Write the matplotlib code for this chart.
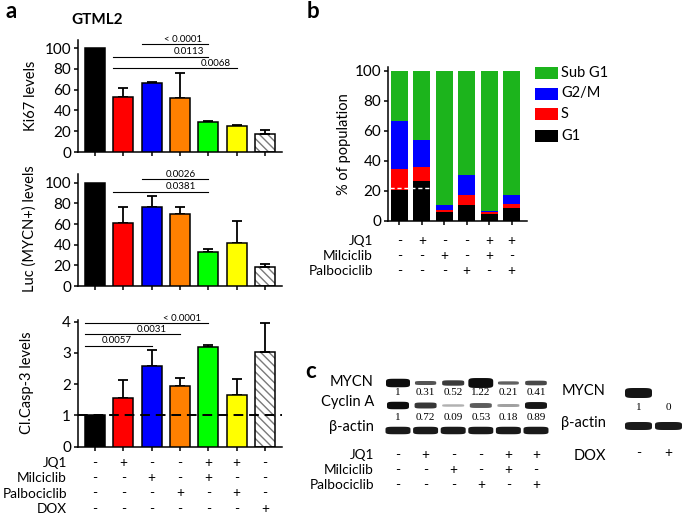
import matplotlib
matplotlib.use('Agg')
import matplotlib.pyplot as plt
import numpy as np
from matplotlib.transforms import blended_transform_factory as btf
from matplotlib.patches import Rectangle

plt.rcParams['font.family'] = ['Lato', 'DejaVu Sans']
plt.rcParams['hatch.linewidth'] = 1.0

# ---------------- data ----------------
conditions = ['Control', 'JQ1', 'Milciclib', 'Palbociclib', 'JQ1+Milciclib', 'JQ1+Palbociclib', 'DOX']
ki67_mean = [100, 52.9, 66.6, 52.2, 28.7, 25.2, 17.2]
ki67_err = [0, 8.9, 0.9, 23.3, 0.9, 0.9, 3.5]
luc_mean = [100, 61.3, 76.8, 70.0, 33.2, 41.9, 18.7]
luc_err = [0, 15.5, 10.2, 6.5, 2.9, 21.0, 2.6]
casp_mean = [1.0, 1.56, 2.58, 1.94, 3.19, 1.65, 3.02]
casp_err = [0, 0.56, 0.51, 0.26, 0.05, 0.50, 0.95]

# comparisons: (first bar, last bar, line level, p-value label, label x-centre)
ki67_comps = [(2, 4, 103.6, '< 0.0001', 3.12), (1, 4, 91.6, '0.0113', 3.3), (1, 5, 80.5, '0.0068', 4.27)]
luc_comps = [(2, 4, 103.3, '0.0026', 3.02), (1, 4, 91.3, '0.0381', 3.02)]
casp_comps = [(0, 4, 3.95, '< 0.0001', 3.09), (0, 3, 3.59, '0.0031', 2.01), (0, 2, 3.23, '0.0057', 0.78)]

a_rows = ['JQ1', 'Milciclib', 'Palbociclib', 'DOX']
a_signs = [['-', '+', '-', '-', '+', '+', '-'],
           ['-', '-', '+', '-', '+', '-', '-'],
           ['-', '-', '-', '+', '-', '+', '-'],
           ['-', '-', '-', '-', '-', '-', '+']]

# panel b: cell cycle distribution (%)
g1 = [21.0, 26.7, 5.8, 10.7, 5.0, 8.9]
s_phase = [14.0, 9.1, 1.5, 6.6, 1.0, 2.6]
g2m = [31.7, 18.2, 3.7, 13.4, 0.5, 5.6]
subg1 = [33.3, 46.0, 89.0, 69.3, 93.5, 82.9]
bc_rows = ['JQ1', 'Milciclib', 'Palbociclib']
bc_signs = [['-', '+', '-', '-', '+', '+'],
            ['-', '-', '+', '-', '+', '-'],
            ['-', '-', '-', '+', '-', '+']]

# panel c: western blot quantification
mycn_q = [1, 0.31, 0.52, 1.22, 0.21, 0.41]
cyclinA_q = [1, 0.72, 0.09, 0.53, 0.18, 0.89]
actin_q = [1, 1, 1, 1, 1, 1]
dox_mycn_q = [1, 0]
dox_actin_q = [1, 1]
dox_signs = ['-', '+']

# ---------------- layout helpers ----------------
W, H = 685, 516
fig = plt.figure(figsize=(6.85, 5.16), dpi=100)

def rect(x0, y0, x1, y1):
    return [x0 / W, 1 - y1 / H, (x1 - x0) / W, (y1 - y0) / H]

bar_colors = ['#000000', '#ff0000', '#0000ff', '#ff8000', '#00ff00', '#ffff00', '#ffffff']
TICK_FS = 11
LAB_FS = 10.5
ROW_FS = 9.8
SIG_FS = 7
NUM_FS = 8


def style_axes(ax, top):
    for sp in ['top', 'right']:
        ax.spines[sp].set_visible(False)
    ax.spines['left'].set_linewidth(1.1)
    ax.spines['bottom'].set_linewidth(1.1)
    ax.spines['left'].set_bounds(0, top)
    ax.tick_params(direction='out', length=3, width=1.1, labelsize=TICK_FS, pad=2)


def bar_panel(ax, mean, err, ylim, yticks, comps):
    x = np.arange(len(mean))
    for i in range(len(mean)):
        if i == 6:
            ax.bar(x[i], mean[i], 0.7, color='white', edgecolor='#7a7a7a', hatch='\\' * 4,
                   linewidth=0, zorder=2)
            ax.bar(x[i], mean[i], 0.7, fill=False, edgecolor='black', linewidth=1.1, zorder=3)
        else:
            ax.bar(x[i], mean[i], 0.7, color=bar_colors[i], edgecolor='black', linewidth=1.1, zorder=3)
    m = np.array(err) > 0
    ax.errorbar(x[m], np.array(mean)[m], yerr=[np.zeros(m.sum()), np.array(err)[m]], fmt='none',
                ecolor='black', elinewidth=1.3, capsize=3.5, capthick=1.3, zorder=2.5)
    ax.set_xlim(-0.6, 6.6)
    ax.set_ylim(0, ylim)
    ax.set_yticks(yticks)
    ax.set_xticks(x)
    ax.set_xticklabels([])
    style_axes(ax, ylim)
    for i0, i1, yv, lab, tx in comps:
        ax.plot([i0 - 0.35, i1], [yv, yv], color='black', lw=0.8, clip_on=False, zorder=4)
        ax.annotate(lab, (tx, yv), xytext=(0, 0.2), textcoords='offset points', ha='center',
                    va='bottom', fontsize=SIG_FS, annotation_clip=False)


ax1 = fig.add_axes(rect(78, 39.7, 282, 152))
bar_panel(ax1, ki67_mean, ki67_err, 108, [0, 20, 40, 60, 80, 100], ki67_comps)
ax2 = fig.add_axes(rect(78, 174.4, 282, 286))
bar_panel(ax2, luc_mean, luc_err, 108, [0, 20, 40, 60, 80, 100], luc_comps)
ax3 = fig.add_axes(rect(78, 320.1, 282, 446.7))
bar_panel(ax3, casp_mean, casp_err, 4.05, [0, 1, 2, 3, 4], casp_comps)
ax3.axhline(1, color='black', lw=1.4, ls=(0, (5, 3)), zorder=5)

# ---------------- panel b ----------------
axb = fig.add_axes(rect(388, 66.5, 527, 221))
xb = np.arange(len(g1))
bw = 0.76
col_g1, col_s, col_g2m, col_sub = '#000000', '#ff0000', '#0000ff', '#1cb41c'
bottom = np.zeros(len(g1))
for vals, c in [(g1, col_g1), (s_phase, col_s), (g2m, col_g2m), (subg1, col_sub)]:
    axb.bar(xb, vals, bw, bottom=bottom, color=c, linewidth=0, zorder=2)
    bottom = bottom + np.array(vals)
axb.plot([-0.42, 1.38], [22.2, 22.2], color='white', lw=1.0, ls=(0, (3, 2)), zorder=3)
axb.set_xlim(-0.51, 5.69)
axb.set_ylim(0, 103)
axb.set_yticks([0, 20, 40, 60, 80, 100])
axb.set_xticks(xb)
axb.set_xticklabels([])
style_axes(axb, 103)

# ---------------- panel c blots ----------------
def band(ax, xc, yc, w, h, alpha, n=5):
    t = np.linspace(0, 2 * np.pi, 120)
    xs = xc + (w / 2) * np.sign(np.cos(t)) * np.abs(np.cos(t)) ** (2 / n)
    ys = yc + (h / 2) * np.sign(np.sin(t)) * np.abs(np.sin(t)) ** (2 / n)
    ax.fill(xs, ys, color='#0d0d0d', alpha=alpha, lw=0)

axc = fig.add_axes(rect(375, 370, 560, 445))
axc.set_xlim(-0.833, 5.87)
axc.set_ylim(445, 370)
axc.axis('off')
LANE = 27.6
serif = ['Liberation Serif', 'DejaVu Serif']
for i, v in enumerate(mycn_q):
    band(axc, i, 383, (20 + 4 * v) / LANE, 2 + 6.5 * v, min(1.0, 0.55 + 0.5 * v))
    axc.text(i, 392.5, f'{v:g}', ha='center', va='center', fontsize=NUM_FS, family=serif)
for i, v in enumerate(cyclinA_q):
    band(axc, i, 405.5, 22 / LANE, 2 + 5.5 * v, min(1.0, 0.25 + 0.8 * v))
    axc.text(i, 417.5, f'{v:g}', ha='center', va='center', fontsize=NUM_FS, family=serif)
for i, v in enumerate(actin_q):
    band(axc, i, 430.5, 25 / LANE, 7.5 * v, 0.95)

axd = fig.add_axes(rect(615, 380, 685, 440))
axd.set_xlim(-0.783, 1.55)
axd.set_ylim(440, 380)
axd.axis('off')
for i, v in enumerate(dox_mycn_q):
    if v > 0:
        band(axd, i, 393, 27 / 30, 10 * v, 0.97)
    axd.text(i, 407, f'{v:g}', ha='center', va='center', fontsize=NUM_FS, family=serif)
for i, v in enumerate(dox_actin_q):
    band(axd, i, 426, 27 / 30, 8 * v, 0.95)

# ---------------- overlay text ----------------
ov = fig.add_axes([0, 0, 1, 1], zorder=10)
ov.set_xlim(0, W)
ov.set_ylim(H, 0)
ov.axis('off')
ov.patch.set_visible(False)

ov.text(11, 12, 'a', fontsize=16, fontweight='bold', ha='center', va='center')
ov.text(313, 11, 'b', fontsize=16, fontweight='bold', ha='center', va='center')
ov.text(311, 371, 'c', fontsize=16, fontweight='bold', ha='center', va='center')
ov.text(97, 20, 'GTML2', fontsize=11, fontweight='bold', ha='center', va='center')

ov.text(31, 96, 'Ki67 levels', rotation=90, ha='center', va='center', fontsize=LAB_FS)
ov.text(30, 229, 'Luc (MYCN+) levels', rotation=90, ha='center', va='center', fontsize=LAB_FS)
ov.text(27, 383, 'Cl.Casp-3 levels', rotation=90, ha='center', va='center', fontsize=LAB_FS)
ov.text(344, 144, '% of population', rotation=90, ha='center', va='center', fontsize=LAB_FS)

# panel a treatment rows
tra = btf(ax3.transData, ov.transData)
for r, (lab, row) in enumerate(zip(a_rows, a_signs)):
    y = [462.7, 478, 493.5, 509][r]
    ov.text(67, y, lab, ha='right', va='center', fontsize=ROW_FS)
    for i, sgn in enumerate(row):
        ov.text(i, y, sgn, transform=tra, ha='center', va='center', fontsize=ROW_FS)

# panel b treatment rows
trb = btf(axb.transData, ov.transData)
for r, (lab, row) in enumerate(zip(bc_rows, bc_signs)):
    y = [240.7, 256, 271][r]
    ov.text(373, y, lab, ha='right', va='center', fontsize=ROW_FS)
    for i, sgn in enumerate(row):
        ov.text(i, y, sgn, transform=trb, ha='center', va='center', fontsize=ROW_FS)

# panel b legend
for lab, c, y in [('Sub G1', col_sub, 73), ('G2/M', col_g2m, 93.5), ('S', col_s, 114), ('G1', col_g1, 135.5)]:
    ov.add_patch(Rectangle((535, y - 6), 23, 12, color=c, lw=0))
    ov.text(561, y, lab, ha='left', va='center', fontsize=10.5)

# panel c labels and rows
ov.text(374, 382, 'MYCN', ha='right', va='center', fontsize=10.5)
ov.text(374, 402, 'Cyclin A', ha='right', va='center', fontsize=10.5)
ov.text(374, 427, 'β-actin', ha='right', va='center', fontsize=10.5)
trc = btf(axc.transData, ov.transData)
for r, (lab, row) in enumerate(zip(bc_rows, bc_signs)):
    y = [455, 470, 485][r]
    ov.text(374, y, lab, ha='right', va='center', fontsize=ROW_FS)
    for i, sgn in enumerate(row):
        ov.text(i, y, sgn, transform=trc, ha='center', va='center', fontsize=ROW_FS)

ov.text(606, 391, 'MYCN', ha='right', va='center', fontsize=10.5)
ov.text(606, 423, 'β-actin', ha='right', va='center', fontsize=10.5)
ov.text(606, 456, 'DOX', ha='right', va='center', fontsize=10.5)
trd = btf(axd.transData, ov.transData)
for i, sgn in enumerate(dox_signs):
    ov.text(i, 453, sgn, transform=trd, ha='center', va='center', fontsize=ROW_FS)

fig.savefig('out.png', dpi=100)
